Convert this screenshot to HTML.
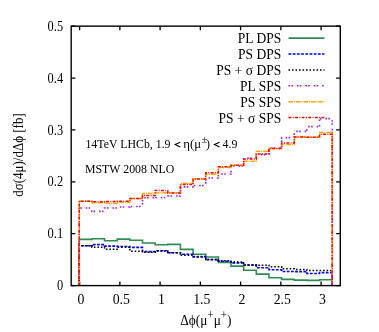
<!DOCTYPE html><html><head><meta charset="utf-8"><style>html,body{margin:0;padding:0;background:#fff}svg{display:block;will-change:transform}text{font-family:"Liberation Serif",serif;fill:#000}</style></head><body>
<svg width="379" height="332" viewBox="0 0 379 332">
<rect width="379" height="332" fill="#fff"/>
<path d="M79.60 285.60 v-4.2 M79.60 26.15 v4.2 M119.85 285.60 v-4.2 M119.85 26.15 v4.2 M160.10 285.60 v-4.2 M160.10 26.15 v4.2 M200.35 285.60 v-4.2 M200.35 26.15 v4.2 M240.60 285.60 v-4.2 M240.60 26.15 v4.2 M280.85 285.60 v-4.2 M280.85 26.15 v4.2 M321.10 285.60 v-4.2 M321.10 26.15 v4.2 M71.20 285.60 h4.2 M340.30 285.60 h-4.2 M71.20 233.71 h4.2 M340.30 233.71 h-4.2 M71.20 181.82 h4.2 M340.30 181.82 h-4.2 M71.20 129.93 h4.2 M340.30 129.93 h-4.2 M71.20 78.04 h4.2 M340.30 78.04 h-4.2 M71.20 26.15 h4.2 M340.30 26.15 h-4.2" stroke="#000" stroke-width="1.3" fill="none"/>
<path d="M79.25 285.60 L79.25 239.35 L91.90 239.35 L91.90 238.70 L104.55 238.70 L104.55 240.80 L117.19 240.80 L117.19 239.10 L129.84 239.10 L129.84 240.20 L142.49 240.20 L142.49 243.00 L155.13 243.00 L155.13 244.80 L167.78 244.80 L167.78 244.40 L180.43 244.40 L180.43 249.40 L193.08 249.40 L193.08 254.30 L205.72 254.30 L205.72 257.00 L218.37 257.00 L218.37 262.50 L231.02 262.50 L231.02 266.10 L243.67 266.10 L243.67 270.30 L256.31 270.30 L256.31 274.10 L268.96 274.10 L268.96 277.70 L281.61 277.70 L281.61 279.40 L294.26 279.40 L294.26 280.10 L306.90 280.10 L306.90 280.40 L319.55 280.40 L319.55 279.80 L332.20 279.80 L332.20 285.60" fill="none" stroke="#2e8b57" stroke-width="1.6"/>
<path d="M79.25 285.60 L79.25 245.70 L91.90 245.70 L91.90 244.60 L104.55 244.60 L104.55 246.10 L117.19 246.10 L117.19 246.50 L129.84 246.50 L129.84 247.40 L142.49 247.40 L142.49 251.60 L155.13 251.60 L155.13 250.70 L167.78 250.70 L167.78 252.80 L180.43 252.80 L180.43 254.30 L193.08 254.30 L193.08 257.00 L205.72 257.00 L205.72 259.60 L218.37 259.60 L218.37 261.30 L231.02 261.30 L231.02 262.90 L243.67 262.90 L243.67 265.00 L256.31 265.00 L256.31 267.70 L268.96 267.70 L268.96 269.80 L281.61 269.80 L281.61 271.50 L294.26 271.50 L294.26 271.60 L306.90 271.60 L306.90 273.50 L319.55 273.50 L319.55 272.60 L332.20 272.60 L332.20 285.60" fill="none" stroke="#0000ff" stroke-width="1.6" stroke-dasharray="2.8 1.4"/>
<path d="M79.25 285.60 L79.25 245.70 L91.90 245.70 L91.90 247.20 L104.55 247.20 L104.55 249.30 L117.19 249.30 L117.19 247.20 L129.84 247.20 L129.84 251.20 L142.49 251.20 L142.49 252.30 L155.13 252.30 L155.13 251.10 L167.78 251.10 L167.78 252.80 L180.43 252.80 L180.43 255.30 L193.08 255.30 L193.08 256.40 L205.72 256.40 L205.72 259.60 L218.37 259.60 L218.37 260.80 L231.02 260.80 L231.02 262.00 L243.67 262.00 L243.67 265.00 L256.31 265.00 L256.31 265.20 L268.96 265.20 L268.96 266.70 L281.61 266.70 L281.61 268.80 L294.26 268.80 L294.26 269.40 L306.90 269.40 L306.90 270.40 L319.55 270.40 L319.55 270.40 L332.20 270.40 L332.20 285.60" fill="none" stroke="#000000" stroke-width="1.5" stroke-dasharray="1.6 1.9"/>
<path d="M79.25 285.60 L79.25 208.00 L91.90 208.00 L91.90 211.40 L104.55 211.40 L104.55 208.00 L117.19 208.00 L117.19 207.00 L129.84 207.00 L129.84 206.50 L142.49 206.50 L142.49 197.70 L155.13 197.70 L155.13 197.50 L167.78 197.50 L167.78 196.00 L180.43 196.00 L180.43 186.90 L193.08 186.90 L193.08 185.50 L205.72 185.50 L205.72 178.00 L218.37 178.00 L218.37 174.00 L231.02 174.00 L231.02 166.00 L243.67 166.00 L243.67 158.00 L256.31 158.00 L256.31 154.70 L268.96 154.70 L268.96 148.00 L281.61 148.00 L281.61 137.60 L294.26 137.60 L294.26 131.40 L306.90 131.40 L306.90 126.60 L319.55 126.60 L319.55 118.60 L332.20 118.60 L332.20 285.60" fill="none" stroke="#a020f0" stroke-width="1.6" stroke-dasharray="1.6 1.3 1.6 3.9"/>
<path d="M79.25 285.60 L79.25 201.20 L91.90 201.20 L91.90 202.80 L104.55 202.80 L104.55 203.20 L117.19 203.20 L117.19 202.30 L129.84 202.30 L129.84 198.50 L142.49 198.50 L142.49 193.40 L155.13 193.40 L155.13 192.70 L167.78 192.70 L167.78 192.80 L180.43 192.80 L180.43 183.60 L193.08 183.60 L193.08 179.00 L205.72 179.00 L205.72 174.20 L218.37 174.20 L218.37 167.50 L231.02 167.50 L231.02 165.30 L243.67 165.30 L243.67 161.20 L256.31 161.20 L256.31 151.20 L268.96 151.20 L268.96 148.40 L281.61 148.40 L281.61 144.50 L294.26 144.50 L294.26 136.90 L306.90 136.90 L306.90 137.30 L319.55 137.30 L319.55 132.60 L332.20 132.60 L332.20 285.60" fill="none" stroke="#ffa500" stroke-width="1.5" stroke-dasharray="4.6 0.9 0.9 1.1"/>
<path d="M79.25 285.60 L79.25 201.20 L91.90 201.20 L91.90 201.80 L104.55 201.80 L104.55 201.40 L117.19 201.40 L117.19 201.30 L129.84 201.30 L129.84 198.50 L142.49 198.50 L142.49 195.50 L155.13 195.50 L155.13 190.40 L167.78 190.40 L167.78 193.10 L180.43 193.10 L180.43 184.50 L193.08 184.50 L193.08 179.00 L205.72 179.00 L205.72 172.80 L218.37 172.80 L218.37 166.80 L231.02 166.80 L231.02 165.30 L243.67 165.30 L243.67 158.90 L256.31 158.90 L256.31 153.90 L268.96 153.90 L268.96 148.40 L281.61 148.40 L281.61 142.90 L294.26 142.90 L294.26 136.90 L306.90 136.90 L306.90 137.30 L319.55 137.30 L319.55 134.30 L332.20 134.30 L332.20 285.60" fill="none" stroke="#ff0000" stroke-width="1.5" stroke-dasharray="2.9 1.4 0.9 1.4"/>
<path d="M288.5 38.10 H324.5" fill="none" stroke="#2e8b57" stroke-width="1.6"/>
<text transform="translate(281.20 43.30) scale(0.980 1)" font-size="13.8" text-anchor="end">PL DPS</text>
<path d="M288.5 54.00 H324.5" fill="none" stroke="#0000ff" stroke-width="1.6" stroke-dasharray="2.8 1.4"/>
<text transform="translate(281.20 59.20) scale(0.980 1)" font-size="13.8" text-anchor="end">PS DPS</text>
<path d="M288.5 69.90 H324.5" fill="none" stroke="#000000" stroke-width="1.5" stroke-dasharray="1.6 1.9"/>
<text transform="translate(281.20 75.10) scale(0.980 1)" font-size="13.8" text-anchor="end">PS + σ DPS</text>
<path d="M288.5 85.80 H324.5" fill="none" stroke="#a020f0" stroke-width="1.6" stroke-dasharray="1.6 1.3 1.6 3.9"/>
<text transform="translate(281.20 91.00) scale(0.980 1)" font-size="13.8" text-anchor="end">PL SPS</text>
<path d="M288.5 101.70 H324.5" fill="none" stroke="#ffa500" stroke-width="1.5" stroke-dasharray="4.6 0.9 0.9 1.1"/>
<text transform="translate(281.20 106.90) scale(0.980 1)" font-size="13.8" text-anchor="end">PS SPS</text>
<path d="M288.5 117.60 H324.5" fill="none" stroke="#ff0000" stroke-width="1.5" stroke-dasharray="2.9 1.4 0.9 1.4"/>
<text transform="translate(281.20 122.80) scale(0.980 1)" font-size="13.8" text-anchor="end">PS + σ SPS</text>
<rect x="71.20" y="26.15" width="269.10" height="259.45" fill="none" stroke="#000" stroke-width="1.4"/>
<text transform="translate(81.00 304.20)" font-size="13.8" text-anchor="middle">0</text>
<text transform="translate(121.25 304.20)" font-size="13.8" text-anchor="middle">0.5</text>
<text transform="translate(161.50 304.20)" font-size="13.8" text-anchor="middle">1</text>
<text transform="translate(201.75 304.20)" font-size="13.8" text-anchor="middle">1.5</text>
<text transform="translate(242.00 304.20)" font-size="13.8" text-anchor="middle">2</text>
<text transform="translate(282.25 304.20)" font-size="13.8" text-anchor="middle">2.5</text>
<text transform="translate(322.50 304.20)" font-size="13.8" text-anchor="middle">3</text>
<text transform="translate(63.10 290.20) scale(0.900 1)" font-size="13.8" text-anchor="end">0</text>
<text transform="translate(63.10 238.31) scale(0.900 1)" font-size="13.8" text-anchor="end">0.1</text>
<text transform="translate(63.10 186.42) scale(0.900 1)" font-size="13.8" text-anchor="end">0.2</text>
<text transform="translate(63.10 134.53) scale(0.900 1)" font-size="13.8" text-anchor="end">0.3</text>
<text transform="translate(63.10 82.64) scale(0.900 1)" font-size="13.8" text-anchor="end">0.4</text>
<text transform="translate(63.10 30.75) scale(0.900 1)" font-size="13.8" text-anchor="end">0.5</text>
<text transform="translate(205.9 324.5) scale(0.965 1)" font-size="13.8" text-anchor="middle">Δϕ(μ<tspan dy="-5.5" font-size="11.5">+</tspan><tspan dy="5.5">μ</tspan><tspan dy="-5.5" font-size="11.5">+</tspan><tspan dy="5.5">)</tspan></text>
<text transform="translate(23.40 155.00) rotate(-90) scale(0.940 1)" font-size="13.8" text-anchor="middle">dσ(4μ)/dΔϕ [fb]</text>
<text transform="translate(85.40 147.90) scale(0.972 1)" font-size="12.2" text-anchor="start">14TeV LHCb, 1.9</text>
<path d="M180.3 142.2 L175.1 144.6 L180.3 147.0" fill="none" stroke="#000" stroke-width="1.05"/>
<text transform="translate(183.30 147.90) scale(1.050 1)" font-size="12.2" text-anchor="start">η(μ</text>
<text transform="translate(201.60 143.20)" font-size="10.5" text-anchor="start">±</text>
<text transform="translate(206.00 147.90) scale(0.972 1)" font-size="12.2" text-anchor="start">)</text>
<path d="M219.6 142.2 L214.4 144.6 L219.6 147.0" fill="none" stroke="#000" stroke-width="1.05"/>
<text transform="translate(222.60 147.90) scale(0.972 1)" font-size="12.2" text-anchor="start">4.9</text>
<text transform="translate(85.00 172.90) scale(0.972 1)" font-size="12.2" text-anchor="start">MSTW 2008 NLO</text>
</svg></body></html>
